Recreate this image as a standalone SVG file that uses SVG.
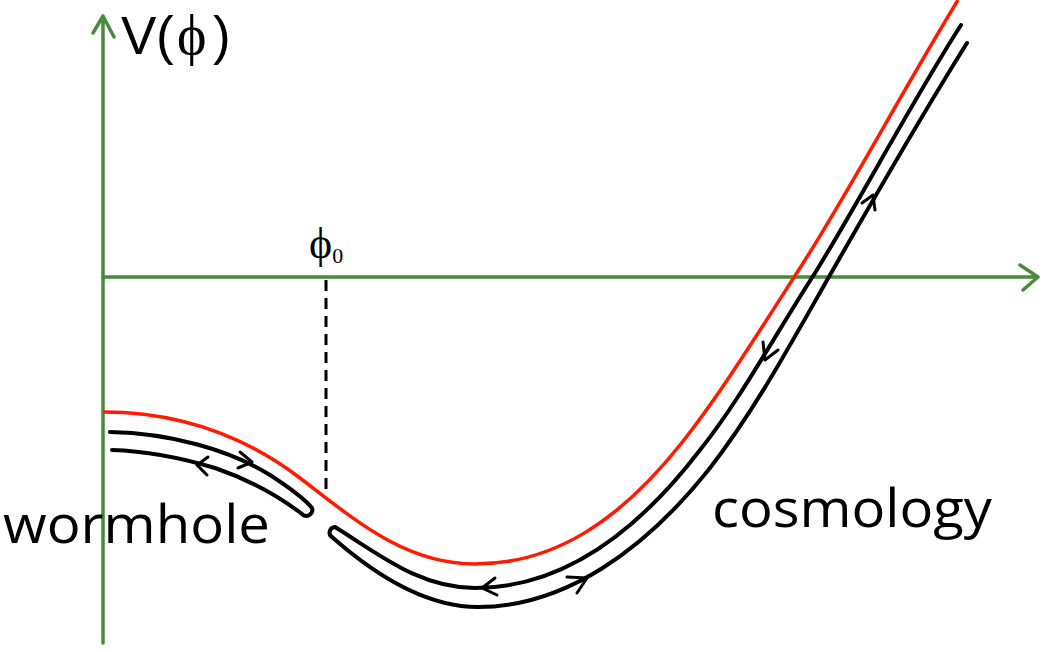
<svg xmlns="http://www.w3.org/2000/svg" width="1050" height="652" viewBox="0 0 1050 652">
<style>
.axis{fill:none;stroke:#4a8b3b;stroke-width:3.5;stroke-linecap:round;stroke-linejoin:round}
.pot{fill:none;stroke:#ff1a00;stroke-width:3.5}
.traj{fill:none;stroke:#000;stroke-width:4;stroke-linecap:round;stroke-linejoin:round}
.arr{fill:none;stroke:#000;stroke-width:3;stroke-linecap:round;stroke-linejoin:round}
.lbl{font-family:"Open Sans","Liberation Sans",sans-serif;fill:#000}
.sans{font-family:"Liberation Sans",Arial,sans-serif;fill:#000}
.ser{font-family:"Liberation Serif","Times New Roman",serif;fill:#000}
</style>
<rect width="1050" height="652" fill="#fff"/>
<g id="axes">
  <path class="axis" d="M103,643 V16 M93,33 L103,16 L114,37"/>
  <path class="axis" d="M103,277 H1038 M1020,265 L1038,277 L1023,290"/>
</g>
<g id="label-V">
  <text class="sans" y="54" font-size="53"><tspan x="121">V</tspan><tspan x="156">(</tspan><tspan class="ser" x="177" font-size="56">ϕ</tspan><tspan x="213">)</tspan></text>
</g>
<g id="label-phi0">
  <text class="ser" x="309" y="258" font-size="44">ϕ<tspan font-size="22" dy="5">0</tspan></text>
</g>
<g id="dashed">
  <path d="M326,280 V494" fill="none" stroke="#000" stroke-width="3" stroke-dasharray="11,7"/>
</g>
<g id="potential">
  <path class="pot" d="M103,412 C185,412 250,440 300,478 C355,520 405,564 475,564 C555,564 620,520 680,445 C720,395 760,330 800,268 C850,190 900,95 958,0"/>
</g>
<g id="connectors">
  <path id="wormhole-loop" class="traj" d="M110,432 C170,433 230,450 270,475 C290,488 304,498 312,508 A6,6 0 0 1 302,514 C280,497 250,480 215,468 C175,456 145,451 112,450"/>
  <path id="cosmology-loop" class="traj" d="M961,25 C910,105 860,200 815,273 C775,335 740,400 700,450 C635,535 560,588 475,588 C420,588 380,555 335,527 A5.5,5.5 0 0 0 332,537 C375,575 425,607 478,607 C565,607 645,550 710,468 C755,410 790,345 830,275 C870,205 920,118 967,43"/>
  <path class="arr" d="M240,452 L252,462 L238,468"/>
  <path class="arr" d="M208,457 L197,465 L207,475"/>
  <path class="arr" d="M495,578 L482,588 L497,595"/>
  <path class="arr" d="M567,577 L587,578 L577,593"/>
  <path class="arr" d="M763,342 L765,360 L778,350"/>
  <path class="arr" d="M862,203 L873,195 L875,210"/>
</g>
<g id="label-wormhole">
  <text class="lbl" x="3" y="543" font-size="53" textLength="267" lengthAdjust="spacingAndGlyphs">wormhole</text>
</g>
<g id="label-cosmology">
  <text class="lbl" x="712" y="527" font-size="53" textLength="280" lengthAdjust="spacingAndGlyphs">cosmology</text>
</g>
</svg>
